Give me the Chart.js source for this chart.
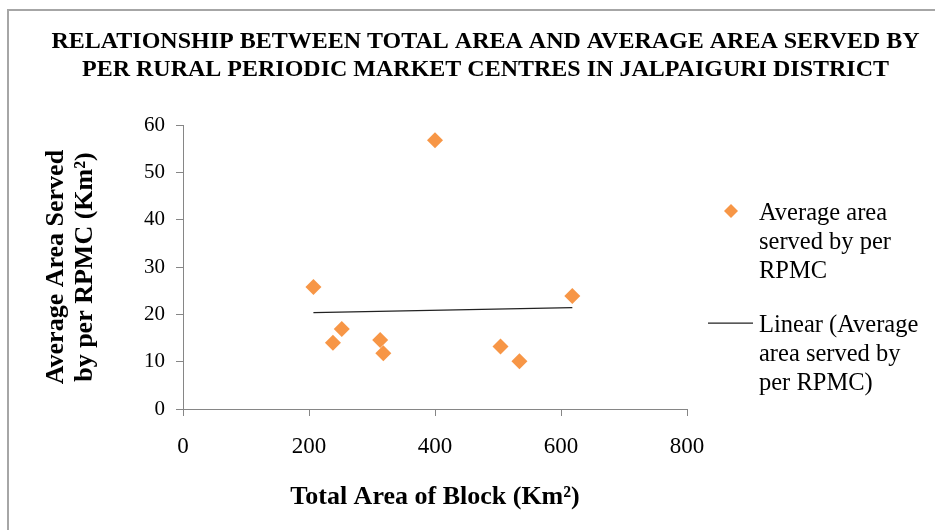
<!DOCTYPE html>
<html>
<head>
<meta charset="utf-8">
<title>Total Area vs Average Area Served per RPMC</title>
<script src="https://cdn.jsdelivr.net/npm/chart.js@4.4.1/dist/chart.umd.min.js"></script>
<style>
  html, body { margin: 0; padding: 0; background: #fff; overflow: hidden; }
  #wrap { position: relative; width: 935px; height: 530px; overflow: hidden; }
  #frame { position: absolute; left: 7px; top: 9px; width: 1000px; height: 600px;
           border: 2px solid #a6a6a6; box-sizing: border-box; pointer-events: none; }
  canvas { position: absolute; left: 0; top: 0; }
</style>
</head>
<body>
<div id="wrap">
  <canvas id="chart" width="935" height="530"></canvas>
  <div id="frame"></div>
</div>
<script>
// Total area of each block (Km²)
const blockArea = [207, 238, 252, 313, 318, 400, 504, 534, 618];
// Average area served by per RPMC in each block (Km²)
const avgAreaServed = [25.8, 14.0, 16.9, 14.6, 11.8, 56.8, 13.2, 10.1, 23.9];

// Axis ticks
const xTickValues = [0, 200, 400, 600, 800];
const yTickValues = [0, 10, 20, 30, 40, 50, 60];

// Text
const chartTitle = [
  'RELATIONSHIP BETWEEN TOTAL AREA AND AVERAGE AREA SERVED BY',
  'PER RURAL PERIODIC MARKET CENTRES IN JALPAIGURI DISTRICT'
];
const xAxisTitle = 'Total Area of Block (Km²)';
const yAxisTitle = ['Average Area Served', 'by per RPMC (Km²)'];
const scatterLegend = ['Average area', 'served by per', 'RPMC'];
const trendLegend = ['Linear (Average', 'area served by', 'per RPMC)'];

const SERIF = "'Liberation Serif', 'Times New Roman', serif";
const ORANGE = '#F79646';
const AXIS_GREY = '#868686';

// Least-squares linear trend across the observed x range
function linearTrend(xs, ys) {
  const n = xs.length;
  const mx = xs.reduce((a, b) => a + b, 0) / n;
  const my = ys.reduce((a, b) => a + b, 0) / n;
  let sxy = 0, sxx = 0;
  for (let i = 0; i < n; i++) {
    sxy += (xs[i] - mx) * (ys[i] - my);
    sxx += (xs[i] - mx) * (xs[i] - mx);
  }
  const slope = sxy / sxx;
  const icpt = my - slope * mx;
  const lo = Math.min(...xs), hi = Math.max(...xs);
  return [{ x: lo, y: icpt + slope * lo }, { x: hi, y: icpt + slope * hi }];
}

const points = blockArea.map((x, i) => ({ x, y: avgAreaServed[i] }));

// Two-entry legend to the right of the plot, wrapped over several lines
const sideLegend = {
  id: 'sideLegend',
  afterDraw(chart) {
    const { ctx, chartArea } = chart;
    const [scatterDs, trendDs] = chart.data.datasets;
    const left = chartArea.right;
    const mid = (chartArea.top + chartArea.bottom) / 2;
    const lh = 29;
    const textX = left + 72;
    ctx.save();
    ctx.font = '24.5px ' + SERIF;
    ctx.textBaseline = 'middle';
    ctx.textAlign = 'left';

    const y1 = mid - 56;
    ctx.fillStyle = scatterDs.backgroundColor;
    ctx.beginPath();
    const r = 7, cx = left + 44;
    ctx.moveTo(cx - r, y1); ctx.lineTo(cx, y1 - r);
    ctx.lineTo(cx + r, y1); ctx.lineTo(cx, y1 + r);
    ctx.closePath(); ctx.fill();
    ctx.fillStyle = '#000';
    scatterLegend.forEach((t, i) => ctx.fillText(t, textX, y1 + 2 + i * lh));

    const y2 = mid + 56;
    ctx.strokeStyle = trendDs.borderColor;
    ctx.lineWidth = 1.2;
    ctx.beginPath();
    ctx.moveTo(left + 21, y2); ctx.lineTo(left + 66, y2);
    ctx.stroke();
    trendLegend.forEach((t, i) => ctx.fillText(t, textX, y2 + 2 + i * lh));
    ctx.restore();
  }
};

new Chart(document.getElementById('chart'), {
  type: 'scatter',
  data: {
    datasets: [
      {
        label: 'Average area served by per RPMC',
        data: points,
        backgroundColor: ORANGE,
        borderColor: ORANGE,
        borderWidth: 0,
        pointStyle: 'rectRot',
        pointRadius: 8,
        pointHoverRadius: 8
      },
      {
        label: 'Linear (Average area served by per RPMC)',
        type: 'line',
        data: linearTrend(blockArea, avgAreaServed),
        borderColor: '#222',
        borderWidth: 1.3,
        pointRadius: 0,
        fill: false
      }
    ]
  },
  options: {
    responsive: false,
    animation: false,
    devicePixelRatio: 1,
    layout: { padding: { left: 36, right: 0, top: 0, bottom: 0 } },
    plugins: {
      legend: { display: false },
      tooltip: { enabled: false },
      title: {
        display: true,
        text: chartTitle,
        color: '#000',
        font: { family: SERIF, size: 24, weight: 'bold', lineHeight: 1.17 },
        padding: { top: 28, bottom: 41 }
      }
    },
    scales: {
      x: {
        type: 'linear',
        position: 'bottom',
        min: 0, max: 800,
        afterBuildTicks: s => { s.ticks = xTickValues.map(v => ({ value: v })); },
        afterFit: s => { s.height = 121; },
        grid: { display: true, drawOnChartArea: false, drawTicks: true, tickLength: 7, color: AXIS_GREY },
        border: { display: true, color: AXIS_GREY, width: 1 },
        ticks: { color: '#000', padding: 17, font: { family: SERIF, size: 23 } },
        title: {
          display: true, text: xAxisTitle, color: '#000',
          font: { family: SERIF, size: 26, weight: 'bold', lineHeight: 1.2 },
          padding: { top: 0, bottom: 17 }
        }
      },
      y: {
        type: 'linear',
        position: 'left',
        min: 0, max: 60,
        afterBuildTicks: s => { s.ticks = yTickValues.map(v => ({ value: v })); },
        afterFit: s => { s.width = 147; },
        grid: { display: true, drawOnChartArea: false, drawTicks: true, tickLength: 7, color: AXIS_GREY },
        border: { display: true, color: AXIS_GREY, width: 1 },
        ticks: { color: '#000', padding: 11, font: { family: SERIF, size: 21 } },
        title: {
          display: true, text: yAxisTitle, color: '#000',
          font: { family: SERIF, size: 26, weight: 'bold', lineHeight: 1.1 },
          padding: { top: 6, bottom: 0 }
        }
      },
      legendSpace: {
        type: 'linear',
        position: 'right',
        display: true,
        afterFit: s => { s.width = 248; },
        grid: { display: false },
        border: { display: false },
        ticks: { display: false }
      }
    }
  },
  plugins: [sideLegend]
});
</script>
</body>
</html>
